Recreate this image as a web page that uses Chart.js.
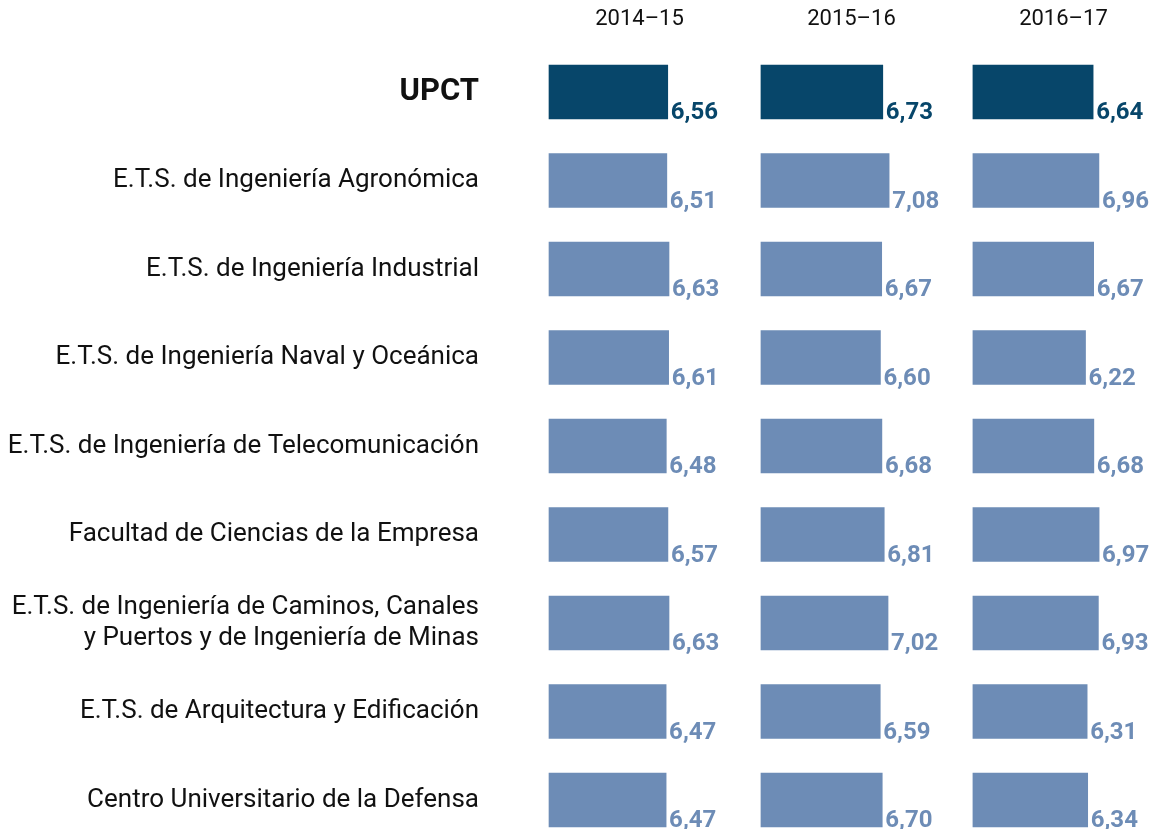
<!DOCTYPE html>
<html>
<head>
<meta charset="utf-8">
<script src="https://cdn.jsdelivr.net/npm/chart.js@4/dist/chart.umd.min.js"></script>
<style>
  html, body { margin: 0; padding: 0; background: #fff; }
  #wrap { width: 1163px; height: 829px; position: relative; }
</style>
</head>
<body>
<div id="wrap"><canvas id="chart"></canvas></div>
<script>
// ========================
// DATA
// ========================
const centros = [
  "UPCT",
  "E.T.S. de Ingeniería Agronómica",
  "E.T.S. de Ingeniería Industrial",
  "E.T.S. de Ingeniería Naval y Oceánica",
  "E.T.S. de Ingeniería de Telecomunicación",
  "Facultad de Ciencias de la Empresa",
  ["E.T.S. de Ingeniería de Caminos, Canales", "y Puertos y de Ingeniería de Minas"],
  "E.T.S. de Arquitectura y Edificación",
  "Centro Universitario de la Defensa",
];
const cursos = ["2014–15", "2015–16", "2016–17"];
const notas1415 = [6.56, 6.51, 6.63, 6.61, 6.48, 6.57, 6.63, 6.47, 6.47];
const notas1516 = [6.73, 7.08, 6.67, 6.60, 6.68, 6.81, 7.02, 6.59, 6.70];
const notas1617 = [6.64, 6.96, 6.67, 6.22, 6.68, 6.97, 6.93, 6.31, 6.34];

// ========================
// STYLE
// ========================
const DARK = "#07466a";
const LIGHT = "#6d8cb6";
const FONT = "Roboto";
// each panel's axis max; also used as stack weight so all panels share px/unit
const PANEL_MAX = [11.71, 11.71, 10.5];

const barColor = (ctx) => (ctx.dataIndex === 0 ? DARK : LIGHT);

function makeDataset(data, i) {
  return {
    label: cursos[i],
    data: data,
    xAxisID: "x" + (i + 1),
    yAxisID: "y",
    backgroundColor: barColor,
    borderWidth: 0,
    barThickness: 54,
    grouped: false,
    clip: false,
  };
}

function makeXAxis(i) {
  return {
    type: "linear",
    position: "top",
    stack: "cursos",
    stackWeight: PANEL_MAX[i],
    weight: 3 - i, // top boxes are placed highest weight first
    min: 0,
    max: PANEL_MAX[i],
    border: { display: false },
    grid: { display: false, drawTicks: false },
    afterBuildTicks: (scale) => { scale.ticks = [{ value: 5 }]; },
    afterFit: (scale) => {
      scale.height = 92;
      scale.paddingLeft = 0;
      scale.paddingRight = 0;
    },
    ticks: {
      padding: 59,
      color: "#111",
      font: { family: FONT, size: 22 },
      callback: () => cursos[i],
    },
  };
}

// ========================
// VALUE LABELS
// ========================
const valueLabels = {
  id: "valueLabels",
  afterDatasetsDraw(chart) {
    const ctx = chart.ctx;
    ctx.save();
    ctx.font = `bold 24px ${FONT}`;
    ctx.textAlign = "left";
    ctx.textBaseline = "alphabetic";
    chart.data.datasets.forEach((ds, di) => {
      const meta = chart.getDatasetMeta(di);
      meta.data.forEach((bar, i) => {
        ctx.fillStyle = i === 0 ? DARK : LIGHT;
        const txt = ds.data[i].toFixed(2).replace(".", ",");
        ctx.fillText(txt, bar.x + 3, bar.y + bar.height / 2);
      });
    });
    ctx.restore();
  },
};

// ========================
// CHART
// ========================
new Chart(document.getElementById("chart"), {
  type: "bar",
  data: {
    labels: centros,
    datasets: [notas1415, notas1516, notas1617].map(makeDataset),
  },
  options: {
    indexAxis: "y",
    responsive: true,
    maintainAspectRatio: false,
    animation: false,
    layout: { padding: { left: 0, right: 0, top: 0, bottom: 29 } },
    plugins: {
      legend: { display: false },
      tooltip: { enabled: false },
    },
    scales: {
      x1: makeXAxis(0),
      x2: makeXAxis(1),
      x3: makeXAxis(2),
      y: {
        type: "category",
        offset: false,
        border: { display: false },
        grid: { display: false, drawTicks: false },
        afterFit: (scale) => {
          scale.width = 549;
          scale.paddingTop = 0;
          scale.paddingBottom = 0;
        },
        ticks: {
          padding: 70,
          autoSkip: false,
          color: "#111",
          font: (ctx) => ctx.index === 0
            ? { family: FONT, size: 31, weight: "bold" }
            : { family: FONT, size: 26 },
        },
      },
    },
  },
  plugins: [valueLabels],
});
</script>
</body>
</html>
